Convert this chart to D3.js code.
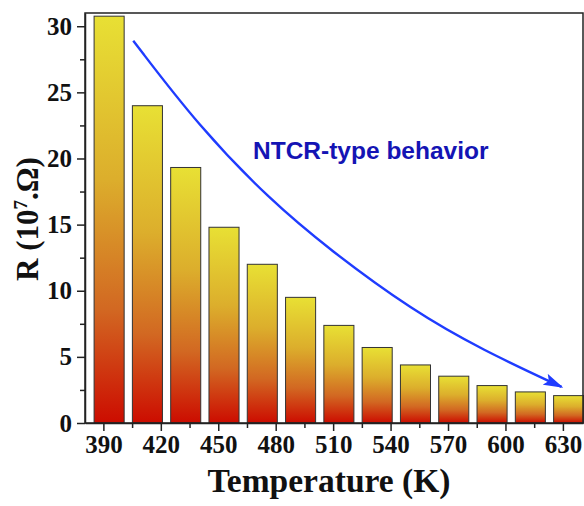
<!DOCTYPE html>
<html>
<head>
<meta charset="utf-8">
<script src="https://cdn.jsdelivr.net/npm/d3@7"></script>
<style>
  body { margin: 0; background: #fff; }
  svg text { font-family: "Liberation Serif", "Times New Roman", serif; font-weight: bold; }
</style>
</head>
<body>
<div id="chart"></div>
<script>
// temperatures (K) and resistance (x10^7 ohm)
var temps = [393, 413, 433, 453, 473, 493, 513, 533, 553, 573, 593, 613, 633];
var resist = [30.76, 23.99, 19.32, 14.8, 12.0, 9.5, 7.38, 5.71, 4.39, 3.54, 2.83, 2.35, 2.07];
var xTicks = [390, 420, 450, 480, 510, 540, 570, 600, 630];
var yTicks = [0, 5, 10, 15, 20, 25, 30];
// NTCR arrow path, in data units
var arrowT = [405.6, 440, 476.8, 508.1, 551.5, 588.2, 629.3];
var arrowR = [28.9, 22.4, 16.9, 13.1, 8.5, 5.5, 2.73];

var width = 584, height = 506,
    margin = {top: 13, right: 1, bottom: 83, left: 85};

var svg = d3.select("#chart").append("svg")
    .attr("width", width)
    .attr("height", height);

// gradient for the bars, yellow at top to red at bottom
var grad = svg.append("defs").append("linearGradient")
    .attr("id", "barGrad")
    .attr("x1", 0).attr("y1", 0).attr("x2", 0).attr("y2", 1);
grad.append("stop").attr("offset", "0%").attr("stop-color", "#e8e034");
grad.append("stop").attr("offset", "40%").attr("stop-color", "#dcae2c");
grad.append("stop").attr("offset", "72%").attr("stop-color", "#d26822");
grad.append("stop").attr("offset", "100%").attr("stop-color", "#cc0c00");

var arrowDef = svg.select("defs").append("marker")
    .attr("id", "arrowHead")
    .attr("viewBox", "0 0 20 12")
    .attr("refX", 18).attr("refY", 6)
    .attr("markerWidth", 20).attr("markerHeight", 12)
    .attr("markerUnits", "userSpaceOnUse")
    .attr("orient", "auto");
arrowDef.append("path").attr("d", "M0,0 L20,6 L0,12 L4,6 Z").attr("fill", "#1f3cff");

var x = d3.scaleLinear().domain([380.4, 640.5]).range([margin.left, width - margin.right]);
var y = d3.scaleLinear().domain([0, 31]).range([height - margin.bottom, margin.top]);

var barW = 15.7; // in K
var bars = svg.append("g").selectAll("rect")
    .data(temps)
    .join("rect")
    .attr("x", (d, i) => x(d - barW / 2))
    .attr("y", (d, i) => y(resist[i]))
    .attr("width", x(barW) - x(0))
    .attr("height", (d, i) => y(0) - y(resist[i]))
    .attr("fill", "url(#barGrad)")
    .attr("stroke", "#333")
    .attr("stroke-width", 1);

// frame
svg.append("rect")
    .attr("x", margin.left).attr("y", margin.top)
    .attr("width", width - margin.left - margin.right)
    .attr("height", height - margin.top - margin.bottom)
    .attr("fill", "none")
    .attr("stroke", "#222")
    .attr("stroke-width", 1.5);

// minor ticks
svg.append("g")
    .attr("transform", `translate(0,${y(0)})`)
    .call(d3.axisBottom(x).tickValues(d3.range(405, 640, 30)).tickSize(5).tickFormat(""))
    .call(g => g.select(".domain").remove());
svg.append("g")
    .attr("transform", `translate(${margin.left},0)`)
    .call(d3.axisLeft(y).tickValues(d3.range(2.5, 31, 5)).tickSize(5).tickFormat(""))
    .call(g => g.select(".domain").remove());

// major axes
var xAxis = svg.append("g")
    .attr("transform", `translate(0,${y(0)})`)
    .call(d3.axisBottom(x).tickValues(xTicks).tickSize(8).tickPadding(4).tickSizeOuter(0));
xAxis.selectAll("text").attr("font-size", 25).attr("fill", "#111");

var yAxis = svg.append("g")
    .attr("transform", `translate(${margin.left},0)`)
    .call(d3.axisLeft(y).tickValues(yTicks).tickSize(8).tickPadding(5).tickSizeOuter(0));
yAxis.selectAll("text").attr("font-size", 25).attr("fill", "#111");

svg.selectAll(".tick line").attr("stroke", "#222").attr("stroke-width", 1.5);
svg.selectAll(".domain").attr("stroke", "#222").attr("stroke-width", 1.5);

// axis titles
svg.append("text")
    .attr("x", 329).attr("y", 492)
    .attr("text-anchor", "middle")
    .attr("font-size", 33.5)
    .attr("fill", "#111")
    .text("Temperature (K)");

var yl = svg.append("text")
    .attr("transform", "translate(38,219) rotate(-90)")
    .attr("text-anchor", "middle")
    .attr("font-size", 31)
    .attr("fill", "#111");
yl.append("tspan").text("R (10");
yl.append("tspan").attr("font-size", 19).attr("dy", -11).text("7");
yl.append("tspan").attr("dy", 11).text(".Ω)");

// NTCR arrow
var line = d3.line()
    .x((d, i) => x(arrowT[i]))
    .y((d, i) => y(arrowR[i]))
    .curve(d3.curveBasis);
svg.append("path")
    .attr("d", line(arrowT))
    .attr("fill", "none")
    .attr("stroke", "#1f3cff")
    .attr("stroke-width", 2.4)
    .attr("marker-end", "url(#arrowHead)");

svg.append("text")
    .attr("x", 253).attr("y", 159)
    .attr("font-size", 24.5)
    .attr("fill", "#1414b4")
    .style("font-family", "'Liberation Sans', Arial, sans-serif")
    .text("NTCR-type behavior");
</script>
</body>
</html>
